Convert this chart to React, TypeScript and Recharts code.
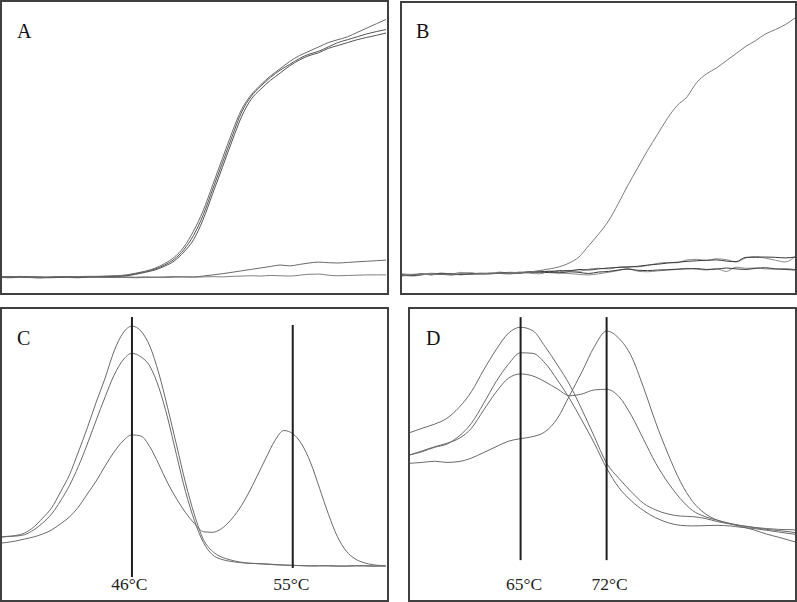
import { LineChart, Line, XAxis, YAxis, ReferenceLine } from 'recharts';

// amplification cycles (panels A and B)
const cycles = [
  0, 1, 2, 3, 4, 5, 6, 7, 8, 9, 10, 11, 12, 13, 14, 15, 16, 17, 18, 19, 20,
  21, 22, 23, 24, 25, 26, 27, 28, 29, 30, 31, 32, 33, 34, 35, 36, 37, 38, 39, 40,
];

const aCurve1 = [
  5.3, 5.2, 5.4, 5.1, 5.0, 5.2, 5.3, 5.2, 5.3, 5.4, 5.4, 5.5, 5.6, 5.9, 6.5, 7.2, 8.2, 9.8, 12, 15.5,
  21, 28, 37, 46, 55, 63, 68, 71.5, 74.5, 77, 79.5, 81.5, 83, 84.5, 86, 87, 88, 89.5, 91, 92.5, 94,
];
const aCurve2 = [
  5.2, 5.3, 5.2, 5.2, 5.1, 5.1, 5.2, 5.3, 5.2, 5.2, 5.3, 5.4, 5.5, 5.7, 6.3, 7.0, 7.9, 9.3, 11.3, 14.6,
  19.5, 26.5, 35.5, 44.5, 53.5, 62, 67.5, 71, 74, 76.5, 78.5, 80.5, 82, 83, 84.5, 86, 87, 88, 89, 89.8, 90.5,
];
const aCurve3 = [
  5.4, 5.1, 5.3, 5.2, 5.2, 5.0, 5.1, 5.2, 5.1, 5.3, 5.2, 5.3, 5.4, 5.6, 6.1, 6.8, 7.6, 8.9, 10.7, 13.8,
  18, 25, 34, 43, 52, 60.5, 66.5, 70, 73, 75.5, 78, 80, 81.5, 82.5, 84, 85, 86, 87, 87.8, 88.5, 89.3,
];
const aCurve4 = [
  5.0, 4.9, 5.1, 5.0, 4.8, 5.0, 5.1, 5.0, 4.9, 5.1, 5.2, 5.1, 5.0, 5.2, 5.1, 5.2, 5.1, 5.2, 5.3, 5.2,
  5.2, 5.5, 5.9, 6.3, 6.8, 7.3, 7.8, 8.3, 8.8, 9.3, 9.0, 9.5, 10.0, 10.3, 10.1, 10.0, 10.2, 10.4, 10.6, 10.8, 11.0,
];
const aCurve5 = [
  5.1, 5.0, 5.2, 5.0, 5.1, 4.9, 5.0, 5.1, 5.0, 5.2, 5.1, 5.0, 5.1, 5.0, 4.9, 5.0, 5.1, 5.0, 5.1, 5.2,
  5.1, 5.2, 5.3, 5.2, 5.4, 5.5, 5.6, 5.5, 5.7, 5.6, 5.5, 5.8, 6.1, 6.2, 5.8, 5.6, 5.7, 5.8, 5.9, 5.9, 5.9,
];

const bCurve1 = [
  5.8, 5.9, 6.1, 6.0, 6.2, 6.1, 6.3, 6.2, 6.4, 6.5, 6.5, 6.7, 6.8, 6.9, 7.4, 8.0, 8.7, 10, 12.1, 16,
  20, 24.5, 30.5, 37, 43, 49, 54.5, 60, 64.5, 67.5, 72.5, 75.5, 77.5, 80, 82.5, 85, 87, 89.3, 90.8, 92.5, 94.8,
];
const bCurve2 = [
  5.6, 5.8, 6.2, 6.0, 6.4, 6.1, 6.0, 6.3, 6.5, 6.4, 6.6, 6.8, 6.7, 7.0, 7.2, 7.0, 7.4, 7.3, 7.8, 7.6,
  8.0, 8.3, 8.5, 8.6, 8.9, 9.3, 9.6, 10.0, 10.3, 10.6, 10.8, 11.0, 11.1, 10.7, 10.5, 12.0, 12.0, 12.1, 12.0, 11.8, 12.1,
];
const bCurve3 = [
  6.0, 5.5, 5.9, 6.5, 6.2, 5.8, 6.4, 6.7, 6.1, 6.3, 6.9, 6.5, 6.6, 7.1, 6.8, 7.3, 7.0, 7.5, 7.2, 7.9,
  8.2, 8.0, 8.6, 8.8, 8.7, 9.2, 9.9, 10.2, 10.1, 11.1, 11.3, 10.9, 11.5, 11.2, 10.4, 11.8, 12.3, 11.7, 11.0, 10.4, 12.2,
];
const bCurve4 = [
  5.9, 5.7, 6.0, 6.2, 6.1, 6.3, 6.0, 6.2, 6.4, 6.3, 6.5, 6.6, 6.5, 6.8, 6.9, 6.7, 6.6, 7.0, 6.8, 6.4,
  6.9, 7.1, 7.6, 7.9, 7.5, 7.4, 7.6, 7.7, 7.9, 8.0, 8.1, 7.8, 7.9, 8.3, 8.0, 7.8, 8.2, 8.4, 8.0, 7.8, 7.6,
];
const bCurve5 = [
  6.3, 6.1, 6.4, 5.9, 6.6, 6.2, 6.8, 6.3, 6.1, 6.6, 6.4, 6.2, 6.9, 6.5, 6.3, 7.0, 6.6, 6.4, 6.1, 5.9,
  6.3, 6.8, 7.4, 8.1, 7.2, 7.0, 7.3, 7.6, 7.8, 8.2, 7.9, 7.6, 8.1, 7.1, 8.6, 8.2, 8.3, 8.0, 7.9, 8.1, 7.8,
];

// melting temperatures, panel C
const cTemps = [
  38.7, 39, 39.5, 40, 40.5, 41, 41.5, 42, 42.5, 43, 43.5, 44, 44.5, 45, 45.5, 46, 46.5, 47, 47.5, 48,
  48.5, 49, 49.5, 50, 50.5, 51, 51.5, 52, 52.5, 53, 53.5, 54, 54.5, 55, 55.5, 56, 56.5, 57, 57.5, 58,
  58.5, 59, 59.5, 60, 60.2,
];
const cCurve1 = [
  21.4, 21.6, 21.9, 22.8, 24.8, 27.9, 31.4, 36.9, 42.8, 50.7, 59, 67.9, 76.2, 85.5, 91.7, 94.1, 92.4, 87.2, 77.9, 65.9,
  53, 40, 29, 20.5, 16.5, 14.5, 13.5, 12.8, 12.4, 12.2, 12.1, 11.9, 11.7, 11.6, 11.5, 11.4, 11.5, 11.4, 11.3, 11.4,
  11.5, 11.4, 11.3, 11.4, 11.4,
];
const cCurve2 = [
  21.4, 21.5, 21.7, 22.2, 23.8, 26.2, 29.3, 33.8, 39.1, 45.7, 53.4, 61.7, 69.7, 77.2, 82.4, 84.7, 83.5, 80.3, 73, 62.4,
  49.5, 37, 27, 19.5, 15.3, 13.7, 13.0, 12.6, 12.3, 12.2, 12.0, 11.8, 11.7, 11.6, 11.5, 11.4, 11.4, 11.5, 11.4, 11.3,
  11.4, 11.5, 11.4, 11.4, 11.4,
];
const cCurve3 = [
  19.3, 19.5, 20, 20.7, 21.4, 22.4, 23.8, 25.9, 28.3, 31.7, 36.2, 40.7, 45.9, 50.7, 54.5, 56.6, 56.2, 52.5, 46.5, 40,
  34.5, 29.8, 26, 23.2, 23.0, 24.2, 27.0, 31.0, 36.2, 42.3, 48.6, 54.6, 58.1, 57.0, 53.4, 47, 38.2, 29.2, 21.5, 16.5,
  13.8, 12.5, 11.8, 11.5, 11.4,
];
const cPeakTemps = [46, 55];
const cPeakLabels = ['46°C', '55°C'];

// melting temperatures, panel D
const dTemps = [
  56, 57, 58, 59, 60, 61, 62, 63, 64, 65, 66, 67, 68, 69, 70, 71, 72, 73, 74, 75,
  76, 77, 78, 79, 80, 81, 82, 83, 84, 85, 86, 87, 87.33,
];
const dCurve1 = [
  57.4, 58.9, 60.3, 62.3, 66.1, 71.5, 79, 85.9, 91.6, 93.7, 92.5, 87, 80.7, 73.8, 65.2, 56, 46.8, 41.6, 37, 33,
  30.7, 29.3, 28.6, 28.4, 27.8, 26.7, 25.9, 25.2, 24.6, 24, 23.6, 23.1, 22.9,
];
const dCurve2 = [
  49.7, 50.8, 52.3, 53.4, 56.2, 60.6, 67.5, 74.9, 80.9, 84.9, 84.7, 81.3, 75.5, 69, 61.5, 53.7, 45.1, 38.4, 33.9, 30.5,
  28, 26.3, 25.4, 25.2, 25.3, 25.4, 25.2, 24.7, 24.3, 23.7, 23.1, 22.5, 22.3,
];
const dCurve3 = [
  49.7, 51.1, 52.5, 53.7, 55.4, 58.9, 65.2, 71.3, 76.1, 77.6, 76.9, 74.9, 72.4, 70.1, 70.7, 72.1, 72.3, 69.8, 63.4, 55.1,
  46.8, 40.1, 34.6, 30.5, 28.4, 27.2, 26.1, 25.3, 24.7, 24.3, 24, 23.9, 23.8,
];
const dCurve4 = [
  46.8, 47.1, 47.5, 47.1, 47.4, 48.6, 50.5, 52.5, 54.4, 55.3, 56, 57.7, 62.3, 70.3, 78.4, 87, 92.4, 89.9, 83.8, 73,
  60.8, 50, 40.5, 33.6, 29.5, 27.2, 26, 24.9, 23.8, 22.4, 21.3, 20.1, 19.7,
];
const dPeakTemps = [65, 72];
const dPeakLabels = ['65°C', '72°C'];

const SERIF = "'Liberation Serif', 'Times New Roman', serif";
const TRACE = '#6a6a6a';

type Series = { key: string; values: number[]; colour: string };
type Peak = { x: number; label: string; y1: number; y2: number; dx: number };

function buildRows(xs: number[], series: Series[]) {
  return xs.map((x, i) => {
    const row: Record<string, number> = { x };
    series.forEach(s => {
      row[s.key] = s.values[i];
    });
    return row;
  });
}

const peakLabel = (text: string, dx: number) => (props: any) => {
  const vb = props.viewBox || {};
  return (
    <text
      x={(vb.x ?? 0) + dx}
      y={281}
      textAnchor="middle"
      fontFamily={SERIF}
      fontSize={17.5}
      fill="#222"
    >
      {text}
    </text>
  );
};

interface PanelProps {
  frame: [number, number, number, number];
  plot: [number, number, number, number];
  xDomain: [number, number];
  xs: number[];
  series: Series[];
  letter: string;
  letterAt: [number, number];
  peaks?: Peak[];
}

function Panel({ frame, plot, xDomain, xs, series, letter, letterAt, peaks = [] }: PanelProps) {
  const data = buildRows(xs, series);
  return (
    <>
      <div style={{ position: 'absolute', left: plot[0], top: plot[1] }}>
        <LineChart
          width={plot[2]}
          height={plot[3]}
          data={data}
          margin={{ top: 0, right: 0, bottom: 0, left: 0 }}
        >
          <XAxis type="number" dataKey="x" domain={xDomain} hide allowDataOverflow />
          <YAxis type="number" domain={[0, 100]} hide allowDataOverflow />
          {series.map(s => (
            <Line
              key={s.key}
              type="monotone"
              dataKey={s.key}
              stroke={s.colour}
              strokeWidth={1}
              dot={false}
              isAnimationActive={false}
            />
          ))}
          {peaks.map(p => (
            <ReferenceLine
              key={p.label}
              segment={[
                { x: p.x, y: p.y1 },
                { x: p.x, y: p.y2 },
              ]}
              stroke="#1e1e1e"
              strokeWidth={2}
              label={peakLabel(p.label, p.dx)}
            />
          ))}
        </LineChart>
      </div>
      <div
        style={{
          position: 'absolute',
          left: frame[0],
          top: frame[1],
          width: frame[2],
          height: frame[3],
          border: '2px solid #404040',
          boxSizing: 'border-box',
          pointerEvents: 'none',
        }}
      />
      <svg
        width={40}
        height={40}
        style={{ position: 'absolute', left: letterAt[0], top: letterAt[1] - 30 }}
      >
        <text x={0} y={30} fontFamily={SERIF} fontSize={20} fill="#111">
          {letter}
        </text>
      </svg>
    </>
  );
}

export default function App() {
  return (
    <div
      style={{
        position: 'absolute',
        left: 0,
        top: 0,
        width: 797,
        height: 602,
        background: '#fff',
        overflow: 'hidden',
      }}
    >
      <Panel
        frame={[0, 0, 389, 295]}
        plot={[1, 2, 385, 290]}
        xDomain={[0, 40]}
        xs={cycles}
        letter="A"
        letterAt={[17, 38]}
        series={[
          { key: 'a5', values: aCurve5, colour: '#808080' },
          { key: 'a4', values: aCurve4, colour: TRACE },
          { key: 'a3', values: aCurve3, colour: '#555' },
          { key: 'a2', values: aCurve2, colour: '#555' },
          { key: 'a1', values: aCurve1, colour: TRACE },
        ]}
      />
      <Panel
        frame={[400, 1, 397, 294]}
        plot={[402, 3, 393, 289]}
        xDomain={[0, 40]}
        xs={cycles}
        letter="B"
        letterAt={[416, 38]}
        series={[
          { key: 'b5', values: bCurve5, colour: '#8a8a8a' },
          { key: 'b3', values: bCurve3, colour: '#8a8a8a' },
          { key: 'b4', values: bCurve4, colour: '#3a3a3a' },
          { key: 'b2', values: bCurve2, colour: '#3a3a3a' },
          { key: 'b1', values: bCurve1, colour: '#7a7a7a' },
        ]}
      />
      <Panel
        frame={[0, 307, 389, 295]}
        plot={[1, 309, 385, 290]}
        xDomain={[38.67, 60.22]}
        xs={cTemps}
        letter="C"
        letterAt={[17, 345]}
        series={[
          { key: 'c3', values: cCurve3, colour: TRACE },
          { key: 'c2', values: cCurve2, colour: TRACE },
          { key: 'c1', values: cCurve1, colour: TRACE },
        ]}
        peaks={[
          { x: cPeakTemps[0], label: cPeakLabels[0], y1: 7.6, y2: 97.2, dx: -2.5 },
          { x: cPeakTemps[1], label: cPeakLabels[1], y1: 10.7, y2: 94.5, dx: -1.5 },
        ]}
      />
      <Panel
        frame={[408, 307, 389, 295]}
        plot={[410, 309, 385, 290]}
        xDomain={[56, 87.33]}
        xs={dTemps}
        letter="D"
        letterAt={[426, 345]}
        series={[
          { key: 'd4', values: dCurve4, colour: TRACE },
          { key: 'd3', values: dCurve3, colour: TRACE },
          { key: 'd2', values: dCurve2, colour: TRACE },
          { key: 'd1', values: dCurve1, colour: TRACE },
        ]}
        peaks={[
          { x: dPeakTemps[0], label: dPeakLabels[0], y1: 13.4, y2: 97.2, dx: 3.5 },
          { x: dPeakTemps[1], label: dPeakLabels[1], y1: 13.4, y2: 97.2, dx: 3 },
        ]}
      />
    </div>
  );
}
